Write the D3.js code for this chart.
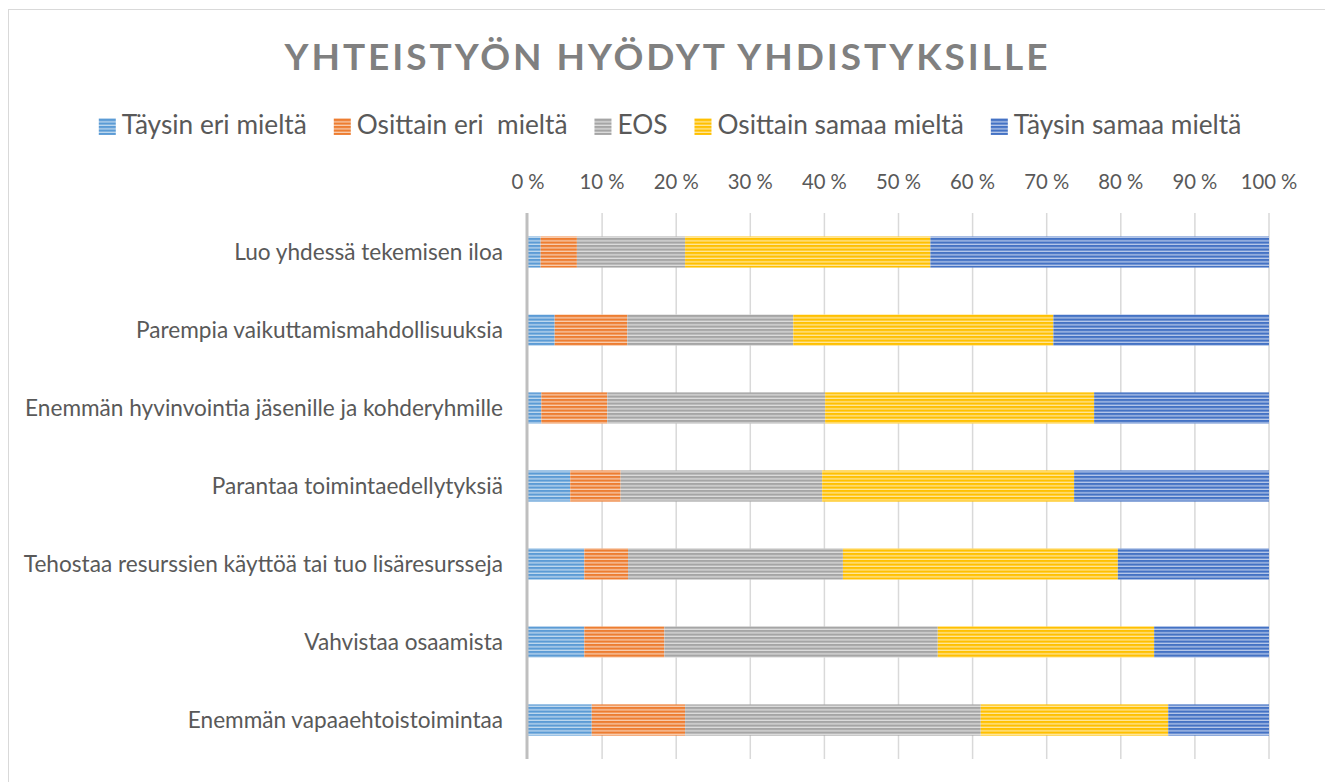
<!DOCTYPE html>
<meta charset="utf-8">
<html lang="fi">

<head>
    <title>Yhteistyön hyödyt yhdistyksille</title>
    <script src="https://d3js.org/d3.v7.min.js"></script>
    <style>
        body { margin: 0; background: #fff; }
        text { font-family: Lato, "Open Sans", sans-serif; fill: #595959; white-space: pre; }
    </style>
</head>

<body>
    <div id="chart"></div>
    <script>
        // data (percent of answers per statement)
        const categories = [
            "Luo yhdessä tekemisen iloa",
            "Parempia vaikuttamismahdollisuuksia",
            "Enemmän hyvinvointia jäsenille ja kohderyhmille",
            "Parantaa toimintaedellytyksiä",
            "Tehostaa resurssien käyttöä tai tuo lisäresursseja",
            "Vahvistaa osaamista",
            "Enemmän vapaaehtoistoimintaa"
        ];
        const seriesNames = ["Täysin eri mieltä", "Osittain eri  mieltä", "EOS", "Osittain samaa mieltä", "Täysin samaa mieltä"];
        const taysinEri = [1.7, 3.6, 1.8, 5.7, 7.6, 7.6, 8.6];
        const osittainEri = [4.9, 9.8, 8.9, 6.8, 5.9, 10.8, 12.6];
        const eos = [14.6, 22.4, 29.4, 27.2, 29.0, 36.9, 39.9];
        const osittainSamaa = [33.1, 35.1, 36.3, 34.0, 37.1, 29.2, 25.3];
        const taysinSamaa = [45.7, 29.1, 23.6, 26.3, 20.4, 15.5, 13.6];
        const tickValues = [0, 10, 20, 30, 40, 50, 60, 70, 80, 90, 100];
        const tickLabels = ["0 %", "10 %", "20 %", "30 %", "40 %", "50 %", "60 %", "70 %", "80 %", "90 %", "100 %"];

        const colors = ["#5B9BD5", "#ED7D31", "#A5A5A5", "#FFC000", "#4472C4"];
        const titleText = "YHTEISTYÖN HYÖDYT YHDISTYKSILLE";

        const width = 1325,
            height = 782;

        // build the table d3.stack wants
        const allSeries = [taysinEri, osittainEri, eos, osittainSamaa, taysinSamaa];
        const table = categories.map((c, i) => {
            const row = { name: c };
            seriesNames.forEach((s, k) => row[s] = allSeries[k][i]);
            return row;
        });
        const stacked = d3.stack().keys(seriesNames)(table);

        const svg = d3.select("#chart")
            .append("svg")
            .attr("width", width)
            .attr("height", height);

        svg.append("rect")
            .attr("width", width).attr("height", height)
            .attr("fill", "#fff");

        // chart frame (runs off the right and bottom edge like in the screenshot)
        svg.append("rect")
            .attr("x", 8.5).attr("y", 9.5)
            .attr("width", width).attr("height", height)
            .attr("fill", "none")
            .attr("stroke", "#D9D9D9");

        // striped fills
        const defs = svg.append("defs");
        colors.forEach((c, k) => {
            const light = d3.interpolateRgb(c, "#fff")(0.62);
            const p = defs.append("pattern")
                .attr("id", "stripe" + k)
                .attr("patternUnits", "userSpaceOnUse")
                .attr("width", 8).attr("height", 3.5);
            p.append("rect").attr("width", 8).attr("height", 3.5).attr("fill", light);
            p.append("rect").attr("width", 8).attr("height", 2.2).attr("fill", c);
        });

        // measure helper: font size that makes a string a given width
        function fitSize(str, target, weight) {
            const t = svg.append("text")
                .attr("font-size", 100)
                .attr("font-weight", weight || "normal")
                .text(str);
            const w = t.node().getComputedTextLength();
            t.remove();
            return 100 * target / w;
        }

        const x = d3.scaleLinear().domain([0, 100]).range([528, 1269]);
        const y = d3.scaleBand().domain(categories).range([213, 759])
            .paddingInner(0.6).paddingOuter(0.3);

        // gridlines
        svg.append("g")
            .selectAll("line")
            .data(tickValues.slice(1))
            .join("line")
            .attr("x1", d => x(d)).attr("x2", d => x(d))
            .attr("y1", 213).attr("y2", 759)
            .attr("stroke", "#D9D9D9")
            .attr("stroke-width", 1.5);

        // bars
        svg.append("g")
            .selectAll("g")
            .data(stacked)
            .join("g")
            .attr("fill", (d, k) => `url(#stripe${k})`)
            .selectAll("rect")
            .data(d => d)
            .join("rect")
            .attr("x", d => x(d[0]))
            .attr("y", d => y(d.data.name))
            .attr("width", d => x(d[1]) - x(d[0]))
            .attr("height", y.bandwidth());

        // vertical category axis line
        svg.append("line")
            .attr("x1", x(0) - 1).attr("x2", x(0) - 1)
            .attr("y1", 213).attr("y2", 759)
            .attr("stroke", "#BFBFBF")
            .attr("stroke-width", 3);

        // top percent labels
        const tickSize = fitSize("10 %", 45);
        svg.append("g")
            .selectAll("text")
            .data(tickValues)
            .join("text")
            .attr("x", d => x(d))
            .attr("y", 189)
            .attr("text-anchor", "middle")
            .attr("font-size", tickSize)
            .text((d, i) => tickLabels[i]);

        // category labels
        const catSize = fitSize(categories[2], 478);
        svg.append("g")
            .selectAll("text")
            .data(categories)
            .join("text")
            .attr("x", 503)
            .attr("y", d => y(d) + y.bandwidth() / 2)
            .attr("dy", "0.35em")
            .attr("text-anchor", "end")
            .attr("font-size", catSize)
            .text(d => d);

        // title, spaced out to the reference width
        const titleSize = 37;
        const title = svg.append("text")
            .attr("x", 666)
            .attr("y", 70)
            .attr("text-anchor", "middle")
            .attr("font-size", titleSize)
            .attr("font-weight", "bold")
            .style("fill", "#808080")
            .text(titleText);
        const rawW = title.node().getComputedTextLength();
        const spacing = (763 - rawW) / (titleText.length - 1);
        title.attr("letter-spacing", spacing)
            .attr("x", 666 + spacing / 2);

        // legend
        const legSize = fitSize(seriesNames[0], 185);
        const legend = svg.append("g");
        let cx = 0;
        seriesNames.forEach((s, k) => {
            const g = legend.append("g").attr("transform", `translate(${cx},0)`);
            g.append("rect")
                .attr("x", 0).attr("y", 118)
                .attr("width", 17).attr("height", 17)
                .attr("fill", `url(#stripe${k})`);
            const t = g.append("text")
                .attr("x", 23).attr("y", 134)
                .attr("font-size", legSize)
                .text(s);
            cx += 23 + t.node().getComputedTextLength() + 27;
        });
        const legW = cx - 27;
        legend.attr("transform", `translate(${670 - legW / 2},0)`);
    </script>
</body>

</html>
